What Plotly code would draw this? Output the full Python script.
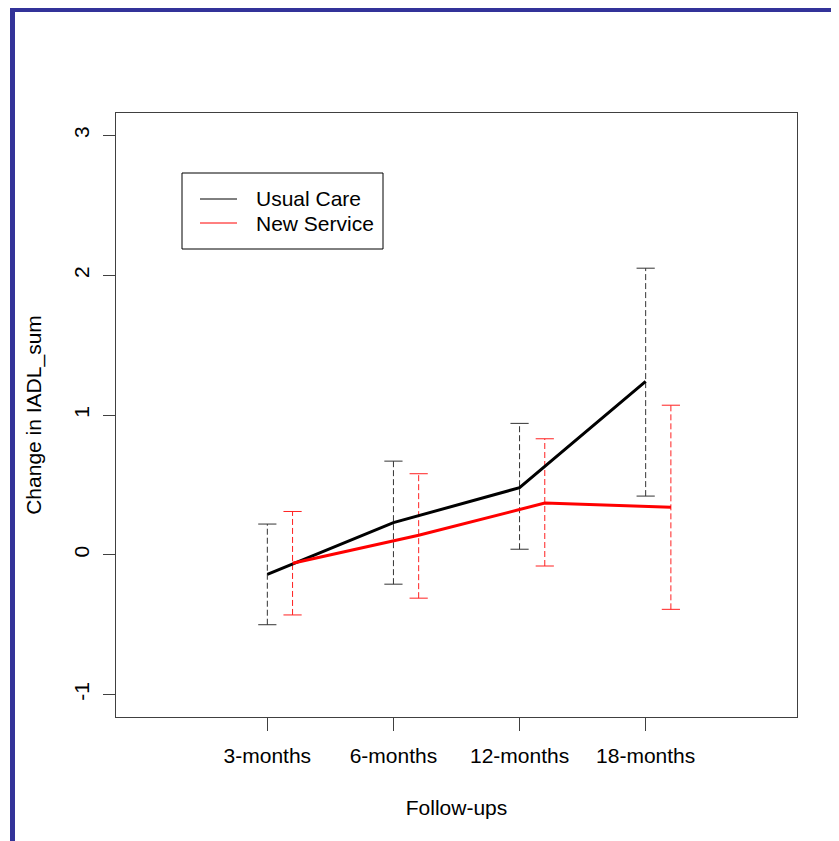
import plotly.graph_objects as go

# ---------------- data ----------------
follow_ups = ["3-months", "6-months", "12-months", "18-months"]
x_pos = [1, 2, 3, 4]
series_names = ["Usual Care", "New Service"]

usual_mean = [-0.14, 0.23, 0.48, 1.24]
usual_lo = [-0.50, -0.21, 0.04, 0.42]
usual_hi = [0.22, 0.67, 0.94, 2.05]

new_mean = [-0.06, 0.14, 0.37, 0.34]
new_lo = [-0.43, -0.31, -0.08, -0.39]
new_hi = [0.31, 0.58, 0.83, 1.07]

y_ticks = [-1, 0, 1, 2, 3]

# ---------------- style ----------------
OFF = 8                      # page body margin in the browser
W, H = 839 - OFF, 841 - OFF
ML, MT = 116 - OFF, 113 - OFF
PW, PH = 681, 604
MR, MB = W - ML - PW, H - MT - PH
NEW_SHIFT = 0.2
FONT = "Liberation Sans, Arial, sans-serif"
FS = 21
BLUE = "#333399"
AX = "#404040"


def px(x):
    """window pixel x -> paper coordinate"""
    return (x - OFF - ML) / PW


def py(y):
    """window pixel y -> paper coordinate"""
    return (MT + PH - (y - OFF)) / PH


def err_segments(xs, lo, hi):
    xx, yy = [], []
    for x, a, b in zip(xs, lo, hi):
        xx += [x, x, None]
        yy += [a, b, None]
    return xx, yy


fig = go.Figure()

groups = [
    (series_names[0], [x for x in x_pos], usual_mean, usual_lo, usual_hi, "black", "#333333"),
    (series_names[1], [x + NEW_SHIFT for x in x_pos], new_mean, new_lo, new_hi, "red", "#ff2020"),
]

for name, xs, m, lo, hi, col, ecol in groups:
    ex, ey = err_segments(xs, lo, hi)
    fig.add_trace(go.Scatter(x=ex, y=ey, mode="lines", showlegend=False,
                             line=dict(color=ecol, width=1, dash="6px,3px"),
                             hoverinfo="skip"))
    fig.add_trace(go.Scatter(x=xs + xs, y=lo + hi, mode="markers", showlegend=False,
                             marker=dict(symbol="line-ew", size=13,
                                         line=dict(color=ecol, width=1)),
                             hoverinfo="skip"))

for name, xs, m, lo, hi, col, ecol in groups:
    fig.add_trace(go.Scatter(x=xs, y=m, mode="lines", name=name, showlegend=False,
                             line=dict(color=col, width=3)))

# ---------------- frame + legend (drawn) ----------------
shapes = [
    dict(type="rect", xref="paper", yref="paper", x0=px(10), x1=px(850),
         y0=py(12), y1=py(7), fillcolor=BLUE, line=dict(width=0), layer="above"),
    dict(type="rect", xref="paper", yref="paper", x0=px(10), x1=px(15),
         y0=py(850), y1=py(7), fillcolor=BLUE, line=dict(width=0), layer="above"),
    dict(type="rect", xref="paper", yref="paper", x0=px(182), x1=px(383),
         y0=py(249), y1=py(173), line=dict(color="black", width=1),
         fillcolor="white", layer="above"),
]
annotations = []
for i, (name, col) in enumerate(zip(series_names, ["black", "red"])):
    yy = 199 + 24 * i
    shapes.append(dict(type="line", xref="paper", yref="paper", x0=px(200), x1=px(237),
                       y0=py(yy), y1=py(yy), line=dict(color=col, width=1), layer="above"))
    annotations.append(dict(text=name, xref="paper", yref="paper", x=px(254), y=py(yy),
                            xanchor="left", yanchor="middle", showarrow=False,
                            font=dict(family=FONT, size=FS, color="black")))

fig.update_layout(
    width=W, height=H,
    margin=dict(l=ML, r=MR, t=MT, b=MB, pad=0),
    paper_bgcolor="white", plot_bgcolor="white",
    font=dict(family=FONT, size=FS, color="black"),
    shapes=shapes, annotations=annotations,
    showlegend=False,
    xaxis=dict(range=[-0.2, 5.2], tickmode="array", tickvals=x_pos, ticktext=follow_ups,
               ticks="outside", ticklen=13, tickcolor=AX, tickwidth=1,
               ticklabelstandoff=7,
               showline=True, linecolor=AX, linewidth=1, mirror=True,
               showgrid=False, zeroline=False, automargin=False,
               title=dict(text="Follow-ups", standoff=34,
                          font=dict(family=FONT, size=FS, color="black"))),
    yaxis=dict(range=[-1.16, 3.16], tickmode="array", tickvals=y_ticks,
               ticktext=[str(v) for v in y_ticks], tickangle=-90,
               ticks="outside", ticklen=12, tickcolor=AX, tickwidth=1,
               ticklabelstandoff=6,
               showline=True, linecolor=AX, linewidth=1, mirror=True,
               showgrid=False, zeroline=False, automargin=False,
               title=dict(text="Change in IADL_sum", standoff=22,
                          font=dict(family=FONT, size=FS, color="black"))),
)

fig.write_html("out.html")
